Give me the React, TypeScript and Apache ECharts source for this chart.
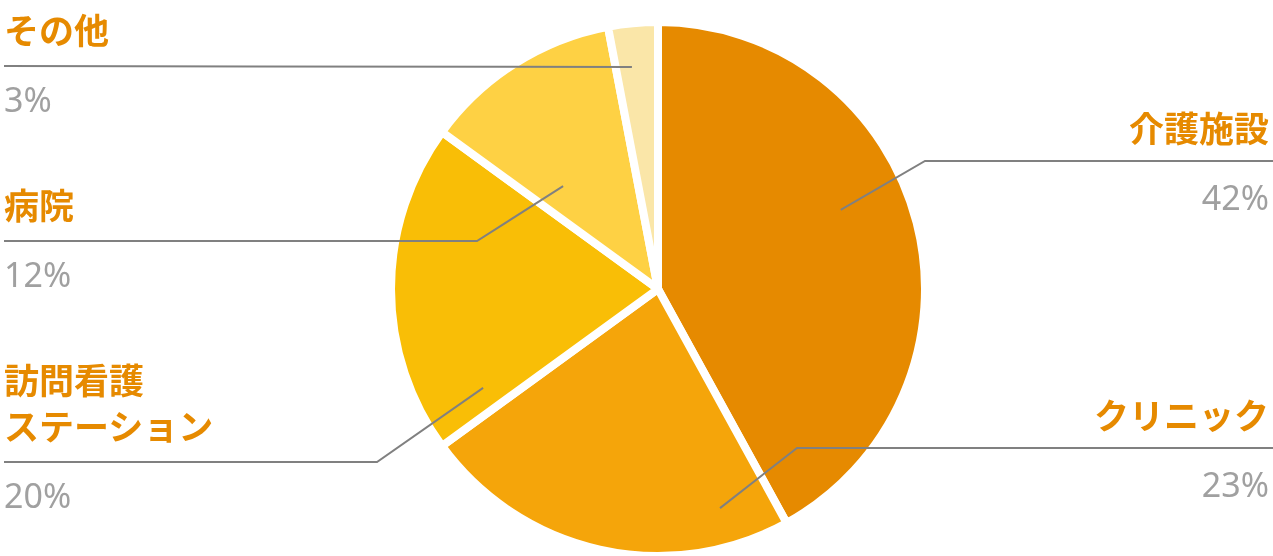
import React, { useEffect, useRef } from "react";
import * as echarts from "echarts";

// ---- data ----
const categories = ["介護施設", "クリニック", "訪問看護\nステーション", "病院", "その他"];
const values = [42, 23, 20, 12, 3];

// ---- style / layout ----
const sliceColors = ["#e68a00", "#f5a50a", "#f9be06", "#fed144", "#fae6a8"];
const labelSide = ["right", "right", "left", "left", "left"];
const labelLineY = [161, 448, 462, 241, 66];
const labelElbowX: (number | null)[] = [925, 797, 377, 477, null];
const anchorAngleDeg = [66.6, 164.2, 240.5, 317.3, 353.3];
const anchorRadiusFrac = [0.757, 0.866, 0.764, 0.532, 0.85];

const W = 1273;
const H = 556;
const CX = 658;
const CY = 289;
const R = 263;
const BORDER = 8;

export default function App() {
  const ref = useRef<HTMLDivElement>(null);
  useEffect(() => {
    const chart = echarts.init(ref.current!, null, { renderer: "svg" });
    const pieData = categories.map((name, i) => ({
      name,
      value: values[i],
      itemStyle: { color: sliceColors[i] },
    }));
    const common = {
      type: "pie",
      center: [CX, CY],
      radius: R + BORDER / 2,
      startAngle: 90,
      clockwise: true,
      avoidLabelOverlap: false,
      silent: true,
      emphasis: { disabled: true },
    };
    chart.setOption({
      animation: false,
      series: [
        {
          ...common,
          z: 2,
          itemStyle: { borderColor: "#ffffff", borderWidth: BORDER },
          data: pieData,
          label: { show: false },
          labelLine: { show: false },
        },
        {
          ...common,
          z: 5,
          itemStyle: { color: "rgba(0,0,0,0)", borderWidth: 0 },
          data: pieData.map((d) => ({ name: d.name, value: d.value })),
          label: {
            show: true,
            position: "outside",
            formatter: (p: any) => `{n|${p.name}}\n{g| }\n{p|${p.value}%}`,
            rich: {
              n: {
                fontFamily: "Noto Sans CJK JP",
                fontWeight: "bold",
                fontSize: 35,
                lineHeight: 46,
                color: "#e68a00",
              },
              g: { fontSize: 10, lineHeight: 30 },
              p: {
                fontFamily: "Noto Sans",
                fontSize: 34,
                lineHeight: 36,
                color: "#a0a0a0",
              },
            },
          },
          labelLine: {
            show: true,
            length: 10,
            length2: 10,
            lineStyle: { color: "#808080", width: 2 },
          },
          labelLayout: (params: any) => {
            const i = params.dataIndex;
            const a = (anchorAngleDeg[i] * Math.PI) / 180;
            const d = anchorRadiusFrac[i] * R;
            const ax = CX + d * Math.sin(a);
            const ay = CY - d * Math.cos(a);
            const ly = labelLineY[i];
            const ex = labelElbowX[i] === null ? ax : (labelElbowX[i] as number);
            const ey = labelElbowX[i] === null ? ay : ly;
            const right = labelSide[i] === "right";
            const endX = right ? W : 4;
            return {
              x: right ? W - 4 : 4,
              y: ly + (right ? 54 : 51),
              align: right ? "right" : "left",
              verticalAlign: "bottom",
              labelLinePoints: [
                [ax, ay],
                [ex, ey],
                [endX, ly],
              ],
            };
          },
        },
      ],
    });
    return () => chart.dispose();
  }, []);
  return (
    <div
      ref={ref}
      style={{ position: "fixed", left: 0, top: 0, width: W, height: H }}
    />
  );
}
